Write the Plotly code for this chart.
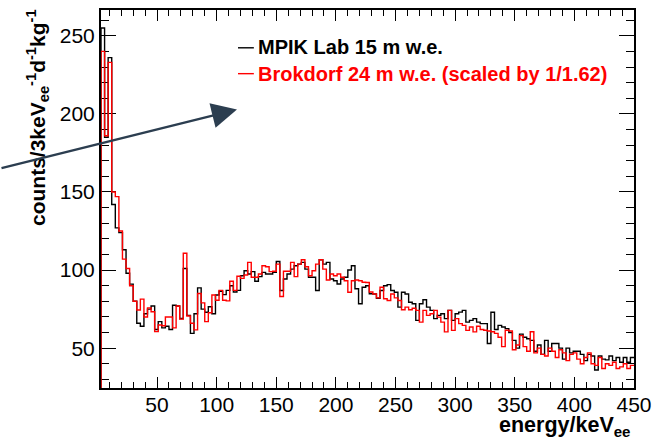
import numpy as np
import plotly.graph_objects as go

# ---- data (3 keV bins from 3 to 450 keV) ----
bin_width = 3
bin_start = 3
mpik = [255, 185, 236, 142, 127, 124, 113, 98, 91, 80,
        66, 64, 72, 75, 77, 62, 67, 63, 64, 62,
        77.5, 77, 69, 101, 71, 59.5, 72, 88.6, 75, 73,
        76.5, 72, 84, 86.4, 84.3, 87, 90, 86, 87, 96.4,
        99.6, 97.5, 99, 92.8, 95.8, 98.5, 97.5, 97.5, 98.5, 105.5,
        86.9, 94.3, 97.5, 100.6, 102.8, 103.8, 104.9, 100.6, 95.4, 95.4,
        86.9, 106.6, 103.8, 104.9, 94.3, 93.2, 91.1, 94.3, 95.4, 100,
        102.8, 88, 78.4, 89, 90, 84.8, 84.7, 82, 86.9, 90,
        90.7, 86.9, 85.8, 76.3, 85.8, 84.7, 79.4, 78.4, 67.8, 78.4,
        81, 76.3, 74.2, 68.9, 71, 72, 68.9, 74.2, 67.8, 72,
        73.1, 74.2, 66.7, 67.8, 68.9, 66.7, 65.7, 65.7, 53, 73,
        62, 64.6, 63.6, 62.5, 60, 55, 50, 59, 57, 56,
        55, 48, 52, 46, 55, 48, 53, 53, 50, 43,
        50, 47, 48, 48, 46, 42, 46, 45, 36, 45,
        43, 42.5, 45, 42, 44, 41, 44, 41, 44]
brokdorf = [240, 186, 233, 150, 147, 125, 107, 101, 90, 80,
            74.4, 81.4, 70, 75.8, 73.3, 60.6, 64.8, 64.4, 70, 70,
            63, 77, 68.6, 110.8, 70.6, 66, 61.7, 85, 79, 67,
            72.7, 84, 80.7, 87, 80.7, 80.3, 92.8, 87, 96, 94.7,
            96.8, 104.9, 95.4, 95.4, 97.5, 102.8, 102.1, 99, 99.2, 103.8,
            83.1, 99.2, 99.2, 104.9, 95.8, 103.8, 106.6, 102.1, 96.4, 99.6,
            103.8, 106.6, 100.6, 93.6, 97.5, 96.4, 97.5, 95.4, 93.2, 85.8,
            93.2, 93.6, 93.2, 92.2, 92, 86, 84.7, 82.2, 89, 81.6,
            80.5, 84.7, 82.2, 80.5, 74.6, 76.3, 74.6, 75.6, 74.2, 66.7,
            74.2, 71, 72, 74.2, 69.9, 66.7, 60.4, 74.2, 61.4, 68.9,
            65.7, 64.6, 61.4, 63.6, 60.4, 64, 62, 61.5, 61, 60.5,
            59.5, 57, 51, 61.5, 61, 49, 52, 58, 51, 48,
            60.5, 47, 50, 46, 45, 50, 48, 44, 49, 47,
            42, 46, 47, 43, 40, 44, 47, 40, 39, 44,
            37, 40, 39, 41, 37, 38, 40, 37, 39]
x_ticks = [50, 100, 150, 200, 250, 300, 350, 400, 450]
y_ticks = [50, 100, 150, 200, 250]
legend_labels = ["MPIK Lab 15 m w.e.", "Brokdorf 24 m w.e. (scaled by 1/1.62)"]

x_range = [3, 450]
y_range = [24.5, 266.5]

# plot box in pixels
W, H = 660, 440
L, R, T, B = 101, 22, 8, 52
pw, ph = W - L - R, H - T - B


def px_x(p):
    return (p - L) / pw


def px_y(p):
    return (H - B - p) / ph


def step(vals):
    n = len(vals)
    edges = bin_start + bin_width * np.arange(n + 1)
    xs = [edges[0]] + list(edges[:-1]) + [edges[-1]]
    ys = [0] + list(vals) + [vals[-1]]
    return xs, ys


fig = go.Figure()
xb, yb = step(mpik)
fig.add_trace(go.Scatter(x=xb, y=yb, mode="lines", line=dict(color="black", width=1.4, shape="hv"),
                         name=legend_labels[0], showlegend=False))
xr, yr = step(brokdorf)
fig.add_trace(go.Scatter(x=xr, y=yr, mode="lines", line=dict(color="#ff0000", width=1.4, shape="hv"),
                         name=legend_labels[1], showlegend=False))

font = "Liberation Sans, Arial, Helvetica, sans-serif"
axis_common = dict(showline=True, linecolor="black", linewidth=2, mirror="allticks",
                   ticks="inside", tickcolor="black", tickwidth=1, showgrid=False, zeroline=False,
                   layer="below traces",
                   tickfont=dict(family=font, size=21, color="black"))

fig.update_layout(
    width=W, height=H, margin=dict(l=L, r=R, t=T, b=B),
    paper_bgcolor="white", plot_bgcolor="white",
    xaxis=dict(range=x_range, tickvals=x_ticks, ticklen=11, ticklabelstandoff=-3,
               minor=dict(dtick=10, tick0=0, ticklen=6, ticks="inside", tickcolor="black"),
               **axis_common),
    yaxis=dict(range=y_range, tickvals=y_ticks, ticklen=15,
               minor=dict(dtick=10, tick0=0, ticklen=8, ticks="inside", tickcolor="black"),
               **axis_common),
)

annotations = []
# axis titles
annotations.append(dict(xref="paper", yref="paper", x=px_x(636), y=px_y(442), xanchor="right", yanchor="bottom",
                        text="<b>energy/keV<sub>ee</sub></b>", showarrow=False,
                        font=dict(family=font, size=21.5, color="black")))
annotations.append(dict(xref="paper", yref="paper", x=px_x(37), y=px_y(5), xanchor="center", yanchor="top",
                        textangle=-90,
                        text="<b>counts/3keV<sub>ee</sub><sup>-1</sup>d<sup>-1</sup>kg<sup>-1</sup></b>",
                        showarrow=False, font=dict(family=font, size=21, color="black")))
# legend texts
annotations.append(dict(xref="paper", yref="paper", x=px_x(257), y=px_y(45), xanchor="left", yanchor="middle",
                        text="<b>" + legend_labels[0] + "</b>", showarrow=False,
                        font=dict(family=font, size=20, color="black")))
annotations.append(dict(xref="paper", yref="paper", x=px_x(257), y=px_y(72), xanchor="left", yanchor="middle",
                        text="<b>" + legend_labels[1] + "</b>", showarrow=False,
                        font=dict(family=font, size=20, color="#ff0000")))
# arrow
annotations.append(dict(xref="x", yref="y", x=3 + (238 - L) * (x_range[1] - x_range[0]) / pw,
                        y=y_range[1] - (108 - T) * (y_range[1] - y_range[0]) / ph,
                        ax=-238, ay=59, axref="pixel", ayref="pixel", showarrow=True, text="",
                        arrowhead=2, arrowsize=2.1, arrowwidth=2.4, arrowcolor="#2c3e50"))
fig.update_layout(annotations=annotations)

shapes = [
    dict(type="line", xref="paper", yref="paper", x0=px_x(239), x1=px_x(255), y0=px_y(46), y1=px_y(46),
         line=dict(color="black", width=1.4)),
    dict(type="line", xref="paper", yref="paper", x0=px_x(239), x1=px_x(255), y0=px_y(72), y1=px_y(72),
         line=dict(color="#ff0000", width=1.4)),
]
fig.update_layout(shapes=shapes)

fig.write_html("out.html")
